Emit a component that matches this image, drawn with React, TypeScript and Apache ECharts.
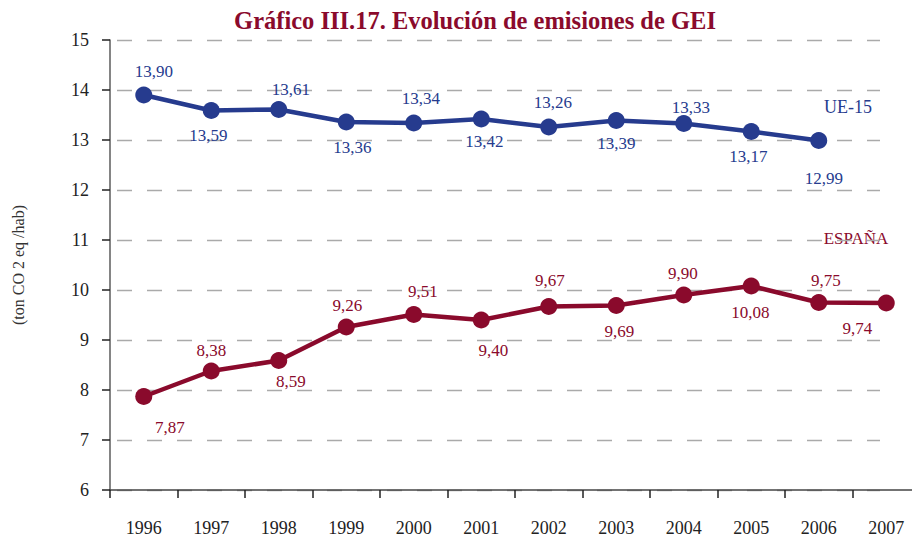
import React, { useEffect, useRef } from "react";
import * as echarts from "echarts";

const years = ["1996", "1997", "1998", "1999", "2000", "2001", "2002", "2003", "2004", "2005", "2006", "2007"];
const ue15 = [13.9, 13.59, 13.61, 13.36, 13.34, 13.42, 13.26, 13.39, 13.33, 13.17, 12.99];
const espana = [7.87, 8.38, 8.59, 9.26, 9.51, 9.4, 9.67, 9.69, 9.9, 10.08, 9.75, 9.74];

// label offsets (style only): [dx, dy] relative to marker centre
const ueLabelOffsets = [[10, -24], [-3, 25], [12, -20], [6, 25], [7, -25], [3, 22], [4, -25], [0, 23], [7, -16], [-3, 25], [5, 38]];
const esLabelOffsets = [[26, 31], [0, -21], [12, 21], [1, -22], [9, -23], [12, 30], [1, -26], [3, 26], [-1, -22], [-1, 26], [7, -22], [-29, 25]];

const BLUE = "#263B8E";
const RED = "#8A0A2C";
const FONT = "Liberation Serif";

const fmt = (v: number) => v.toFixed(2).replace(".", ",");

export default function App() {
  const ref = useRef<HTMLDivElement>(null);
  useEffect(() => {
    const chart = echarts.init(ref.current!, null, { renderer: "svg" });
    const mk = (vals: number[], offs: number[][], color: string) =>
      vals.map((v, i) => ({
        value: v,
        label: {
          show: true,
          position: "inside",
          offset: offs[i],
          formatter: fmt(v),
          color,
          fontFamily: FONT,
          fontSize: 17,
        },
      }));
    chart.setOption({
      animation: false,
      backgroundColor: "#fff",
      title: {
        text: "Gráfico III.17. Evolución de emisiones de GEI",
        left: 470,
        textAlign: "center",
        top: 3,
        textStyle: { fontFamily: FONT, fontWeight: "bold", fontSize: 24.5, color: RED },
      },
      grid: [
        { left: 110, width: 810, top: 40, bottom: 48, containLabel: false, outerBoundsMode: "none" },
        { left: 110, right: 32, top: 40, bottom: 48, containLabel: false, outerBoundsMode: "none" },
      ],
      xAxis: [
        {
          type: "category",
          data: years,
          gridIndex: 0,
          boundaryGap: true,
          axisLine: { lineStyle: { color: "#444", width: 1.5 } },
          axisTick: { show: true, inside: false, length: 8, lineStyle: { color: "#222", width: 1.5 } },
          axisLabel: { fontFamily: FONT, fontSize: 18, color: "#222", margin: 29 },
          splitLine: { show: false },
        },
        {
          type: "category",
          data: years,
          gridIndex: 1,
          show: false,
        },
      ],
      yAxis: [
        {
          type: "value",
          gridIndex: 0,
          min: 6,
          max: 15,
          interval: 1,
          name: "(ton CO 2 eq /hab)",
          nameLocation: "middle",
          nameRotate: 90,
          nameGap: 84,
          nameTextStyle: { fontFamily: FONT, fontSize: 16, color: "#333" },
          axisLine: { show: true, lineStyle: { color: "#666", width: 1.6 } },
          axisTick: { show: true, length: 8, lineStyle: { color: "#222", width: 1.5 } },
          axisLabel: { fontFamily: FONT, fontSize: 18, color: "#222", margin: 21 },
          splitLine: { show: false },
        },
        {
          type: "value",
          gridIndex: 1,
          min: 6,
          max: 15,
          interval: 1,
          axisLine: { show: false },
          axisTick: { show: false },
          axisLabel: { show: false },
          splitLine: {
            show: true,
            lineStyle: { color: "#aaa", width: 1.3, type: [15, 15], dashOffset: -7 },
          },
        },
      ],
      series: [
        {
          type: "line",
          name: "UE-15",
          xAxisIndex: 0,
          yAxisIndex: 0,
          data: mk(ue15, ueLabelOffsets, BLUE),
          symbol: "circle",
          symbolSize: 17,
          lineStyle: { color: BLUE, width: 4.5 },
          itemStyle: { color: BLUE },
          z: 5,
        },
        {
          type: "line",
          name: "ESPAÑA",
          xAxisIndex: 0,
          yAxisIndex: 0,
          data: mk(espana, esLabelOffsets, RED),
          symbol: "circle",
          symbolSize: 17,
          lineStyle: { color: RED, width: 4.5 },
          itemStyle: { color: RED },
          z: 5,
        },
      ],
      graphic: [
        {
          type: "text",
          x: 848,
          y: 107,
          style: { text: "UE-15", fill: BLUE, font: `18px "${FONT}"`, textAlign: "center", textVerticalAlign: "middle" },
        },
        {
          type: "text",
          x: 856,
          y: 238,
          style: { text: "ESPAÑA", fill: RED, font: `17px "${FONT}"`, textAlign: "center", textVerticalAlign: "middle" },
        },
      ],
    });
    return () => chart.dispose();
  }, []);
  return <div ref={ref} style={{ position: "absolute", left: 0, top: 0, width: 912, height: 538, overflow: "hidden" }} />;
}
